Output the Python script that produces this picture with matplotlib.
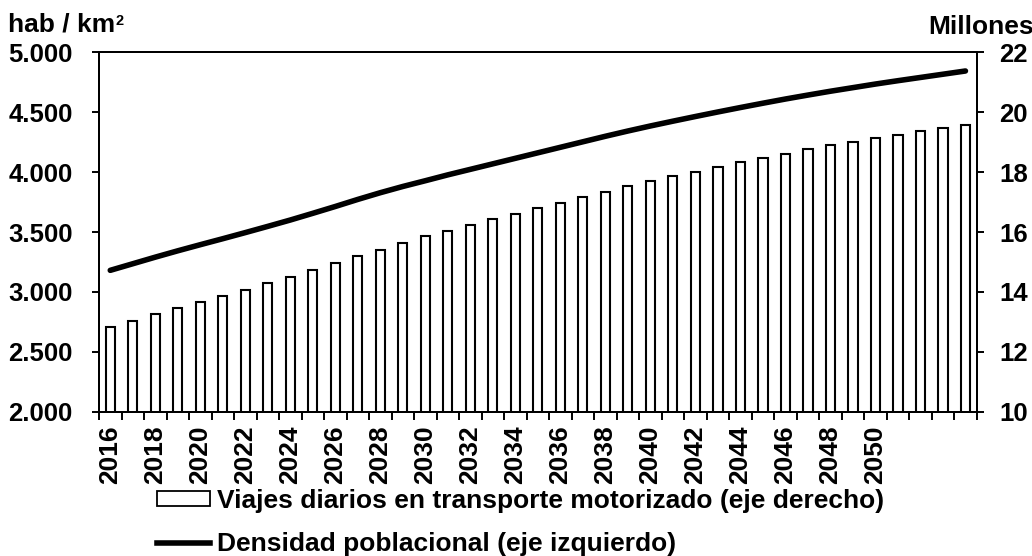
import matplotlib
matplotlib.use("Agg")
import matplotlib.pyplot as plt
from matplotlib.patches import Patch
from matplotlib.lines import Line2D

plt.rcParams['font.family'] = ['Liberation Sans', 'DejaVu Sans']
plt.rcParams['font.weight'] = 'bold'

years = [2016, 2017, 2018, 2019, 2020, 2021, 2022, 2023, 2024, 2025,
         2026, 2027, 2028, 2029, 2030, 2031, 2032, 2033, 2034, 2035,
         2036, 2037, 2038, 2039, 2040, 2041, 2042, 2043, 2044, 2045,
         2046, 2047, 2048, 2049, 2050, 2051, 2052, 2053, 2054]

# Viajes diarios en transporte motorizado (millones, eje derecho)
viajes = [12.83, 13.03, 13.25, 13.46, 13.66, 13.87, 14.08, 14.29, 14.50, 14.73,
          14.96, 15.19, 15.41, 15.63, 15.85, 16.05, 16.22, 16.42, 16.60, 16.80,
          16.98, 17.16, 17.35, 17.52, 17.70, 17.86, 18.02, 18.18, 18.33, 18.47,
          18.62, 18.76, 18.89, 19.02, 19.15, 19.25, 19.37, 19.47, 19.56]

# Densidad poblacional (hab/km2, eje izquierdo)
densidad = [3180, 3235, 3290, 3343, 3394, 3444, 3495, 3547, 3600, 3656,
            3713, 3772, 3828, 3880, 3928, 3977, 4023, 4069, 4115, 4161,
            4207, 4253, 4299, 4343, 4385, 4425, 4464, 4502, 4539, 4575,
            4610, 4643, 4675, 4705, 4735, 4763, 4790, 4817, 4844]

x_labels = ["2016", "2018", "2020", "2022", "2024", "2026", "2028", "2030",
            "2032", "2034", "2036", "2038", "2040", "2042", "2044", "2046",
            "2048", "2050"]

left_ticks = [2000, 2500, 3000, 3500, 4000, 4500, 5000]
left_tick_labels = ["2.000", "2.500", "3.000", "3.500", "4.000", "4.500", "5.000"]
right_ticks = [10, 12, 14, 16, 18, 20, 22]

label_viajes = "Viajes diarios en transporte motorizado (eje derecho)"
label_dens = "Densidad poblacional (eje izquierdo)"

W, H = 1032, 556
fig = plt.figure(figsize=(W / 100, H / 100), dpi=100)
L, R, T, B = 99, 976.7, 52.3, 411.7
ax = fig.add_axes([L / W, 1 - B / H, (R - L) / W, (B - T) / H])
ax2 = ax.twinx()

pos = list(range(len(years)))
ax2.bar(pos, viajes, width=0.41, color='white', edgecolor='black', linewidth=1.5, zorder=2)
ax.plot(pos, densidad, color='black', linewidth=4.0, solid_capstyle='round', zorder=3)

ax.set_zorder(ax2.get_zorder() + 1)
ax.patch.set_visible(False)

ax.set_xlim(-0.5, len(years) - 0.5)
ax.set_ylim(2000, 5000)
ax2.set_ylim(10, 22)

fs_tick = 18.5
fs = 19
ax.set_yticks(left_ticks)
ax.set_yticklabels(left_tick_labels, fontsize=fs_tick, fontweight='bold')
ax2.set_yticks(right_ticks)
ax2.set_yticklabels([str(v) for v in right_ticks], fontsize=fs_tick, fontweight='bold')

# category boundaries as major ticks, labels at centers as minor ticks
ax.set_xticks([i - 0.5 for i in range(len(years) + 1)])
ax.set_xticklabels([])
lab_pos = [years.index(int(s)) for s in x_labels]
ax.set_xticks(lab_pos, minor=True)
ax.set_xticklabels(x_labels, minor=True, rotation=90, fontsize=19, fontweight='bold')
ax.tick_params(axis='x', which='major', direction='out', length=5.5, width=1.4)
ax.tick_params(axis='x', which='minor', length=0, pad=10)
ax.tick_params(axis='y', direction='out', length=5, width=1.4, pad=14)
ax2.tick_params(axis='y', direction='out', length=5, width=1.4, pad=11.5)

for a in (ax, ax2):
    for s in a.spines.values():
        s.set_linewidth(1.4)

fig.text(8 / W, 1 - 32 / H, "hab / km", fontsize=fs, fontweight='bold', ha='left', va='baseline')
fig.text(115 / W, 1 - 25 / H, "2", fontsize=10.5, fontweight='bold', ha='left', va='baseline')
fig.text(928 / W, 1 - 34.5 / H, "Millones", fontsize=fs, fontweight='bold', ha='left', va='baseline')

handles = [Patch(facecolor='white', edgecolor='black', linewidth=1.3),
           Line2D([0], [0], color='black', linewidth=4.0)]
fig.legend(handles, [label_viajes, label_dens], loc='upper left',
           bbox_to_anchor=(157 / W, 1 - 489 / H), frameon=False,
           prop={'size': fs, 'weight': 'bold'}, handlelength=2.0,
           handleheight=0.5, handletextpad=0.27, labelspacing=0.72,
           borderpad=0, borderaxespad=0)

fig.savefig("out.png", dpi=100)
